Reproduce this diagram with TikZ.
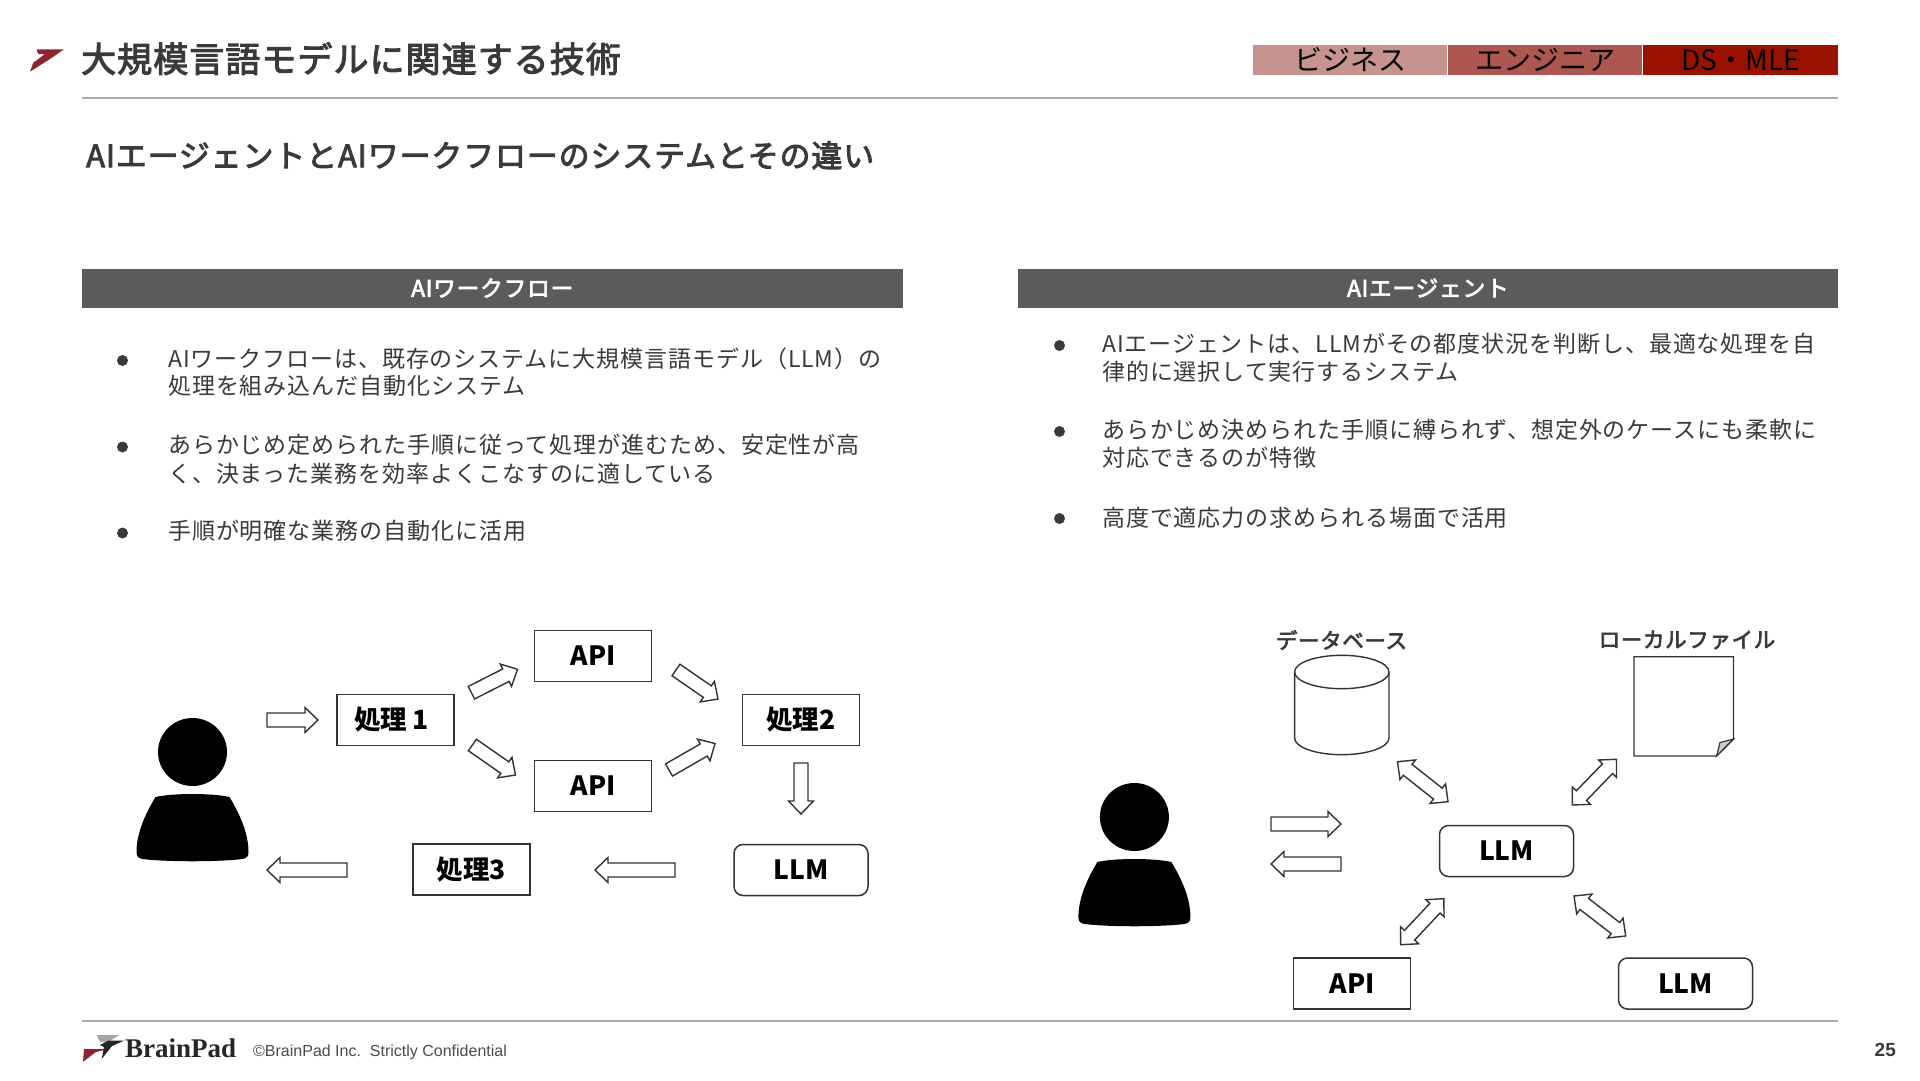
\documentclass[tikz,border=0pt]{standalone}
\usepackage{fontspec}
\usetikzlibrary{calc}
\newfontfamily\jpt[LetterSpace=4]{Noto Sans CJK JP}
\newfontfamily\jpm[LetterSpace=3,FakeBold=3]{Noto Sans CJK JP}
\newfontfamily\jpn{Noto Sans CJK JP}
\newfontfamily\arl{Liberation Sans}
\newfontfamily\lsr{Liberation Serif}
\definecolor{ink}{HTML}{3A3A3A}
\definecolor{rulegray}{HTML}{ABABAB}
\definecolor{barGray}{HTML}{5B5B5B}
\definecolor{tagA}{HTML}{C7938F}
\definecolor{tagB}{HTML}{AE5650}
\definecolor{tagC}{HTML}{9A1100}
\definecolor{logoRed}{HTML}{8E2430}
\tikzset{
  boxsq/.style={draw=black!80,line width=1.5pt,fill=white,rectangle,minimum width=117pt,minimum height=51pt,inner sep=0pt,font=\jpn\bfseries\fontsize{26.5}{30}\selectfont},
  boxrd/.style={boxsq,rounded corners=9pt,minimum width=134pt},
  blk/.style={draw=black!80,line width=1.4pt,fill=white,line join=miter},
  para/.style={anchor=mid west,inner sep=0pt,text=ink,font=\jpt\fontsize{23}{26}\selectfont},
  bar/.style={fill=barGray,rectangle,inner sep=0pt,minimum width=820.6pt,minimum height=39pt,text=white,font=\jpm\fontsize{22.8}{26}\selectfont},
  tag/.style={rectangle,inner sep=0pt,minimum width=194pt,minimum height=30pt,text=black,font=\jpn\fontsize{28}{30}\selectfont},
  captext/.style={inner sep=0pt,text=ink,font=\jpm\fontsize{21.5}{24}\selectfont},
}
\newcommand\barrow[2]{%
  \coordinate (nk) at ($(#2)!13pt!(#1)$);
  \draw[blk] ($(#1)!7pt!90:(#2)$) -- ($(nk)!7pt!90:(#2)$) -- ($(nk)!12.5pt!90:(#2)$) -- (#2)
    -- ($(nk)!12.5pt!-90:(#2)$) -- ($(nk)!7pt!-90:(#2)$) -- ($(#1)!7pt!-90:(#2)$) -- cycle;}
\newcommand\dbarrow[2]{%
  \coordinate (nk) at ($(#2)!13pt!(#1)$);
  \coordinate (nj) at ($(#1)!13pt!(#2)$);
  \draw[blk] (#1) -- ($(nj)!12.5pt!-90:(#2)$) -- ($(nj)!7pt!-90:(#2)$) -- ($(nk)!7pt!90:(#1)$) -- ($(nk)!12.5pt!90:(#1)$) -- (#2)
    -- ($(nk)!12.5pt!-90:(#1)$) -- ($(nk)!7pt!-90:(#1)$) -- ($(nj)!7pt!90:(#2)$) -- ($(nj)!12.5pt!90:(#2)$) -- cycle;}
\newcommand\personfig[2]{%
  \begin{scope}[shift={(#1,#2)}]
    \fill[black] (0,0) ellipse [x radius=34.5,y radius=34];
    \fill[black] (-37,45) .. controls (-20,41) and (20,41) .. (37,45)
      .. controls (46,60) and (56,80) .. (56,100)
      .. controls (56,105) and (54,106) .. (50,107)
      .. controls (25,110) and (-25,110) .. (-50,107)
      .. controls (-54,106) and (-56,105) .. (-56,100)
      .. controls (-56,80) and (-46,60) .. (-37,45) -- cycle;
  \end{scope}}
\begin{document}
\begin{tikzpicture}[x=1pt,y=-1pt]
\useasboundingbox[fill=white] (0,0) rectangle (1920,1080);
% header
\fill[logoRed] (36.7,49.3) -- (64,49.3) -- (50,59) -- (30,71.7) -- (33.3,62.7) -- (45,54) -- (38,54) -- cycle;
\node[anchor=mid west,inner sep=0pt,text=ink] (title) at (81,70) {\jpm\fontsize{35}{40}\selectfont 大規模言語モデルに関連する技術};
\draw[rulegray,line width=1.6pt] (82,98) -- (1838,98);
\node[tag,fill=tagA] (t1) at (1350,60) {ビジネス};
\node[tag,fill=tagB,minimum width=194pt] (t2) at (1545,60) {エンジニア};
\node[tag,fill=tagC,minimum width=195pt] (t3) at (1740.5,60) {DS・MLE};
\node[anchor=mid west,inner sep=0pt,text=ink] (sub) at (86,165) {\jpm\fontsize{30.9}{36}\selectfont AIエージェントとAIワークフローのシステムとその違い};
% section bars
\node[bar] (b1) at (492.3,288) {AIワークフロー};
\node[bar] (b2) at (1427.9,288) {AIエージェント};
% left bullets
\fill[ink] (122.5,360.5) circle (5.5);
\fill[ink] (122.5,447) circle (5.5);
\fill[ink] (122.5,533) circle (5.5);
\node[para] (l1) at (168,365) {AIワークフローは、既存のシステムに大規模言語モデル（LLM）の};
\node[para] (l2) at (168,392.5) {処理を組み込んだ自動化システム};
\node[para] (l3) at (168,451) {あらかじめ定められた手順に従って処理が進むため、安定性が高};
\node[para] (l4) at (168,480) {く、決まった業務を効率よくこなすのに適している};
\node[para] (l5) at (168,537) {手順が明確な業務の自動化に活用};
% right bullets
\fill[ink] (1059.5,345.5) circle (5.5);
\fill[ink] (1059.5,431.5) circle (5.5);
\fill[ink] (1059.5,518.5) circle (5.5);
\node[para] (r1) at (1102,350) {AIエージェントは、LLMがその都度状況を判断し、最適な処理を自};
\node[para] (r2) at (1102,378) {律的に選択して実行するシステム};
\node[para] (r3) at (1102,436) {あらかじめ決められた手順に縛られず、想定外のケースにも柔軟に};
\node[para] (r4) at (1102,464) {対応できるのが特徴};
\node[para] (r5) at (1102,524) {高度で適応力の求められる場面で活用};
% left diagram
\personfig{192.5}{752}
\node[boxsq] (p1) at (395.5,720) {処理\kern5pt 1\kern8pt\relax};
\node[boxsq] (api1) at (593,656) {API};
\node[boxsq] (api2) at (593,786) {API};
\node[boxsq] (p2) at (801,720) {処理2};
\node[boxsq] (p3) at (471.5,869.5) {処理3};
\node[boxrd] (llm1) at (801,870) {LLM};
\coordinate (a1s) at (267,720); \coordinate (a1e) at (318,720);
\coordinate (a2s) at (471.4,692.7); \coordinate (a2e) at (517.5,669.3);
\coordinate (a3s) at (472.4,745); \coordinate (a3e) at (515.5,775);
\coordinate (a4s) at (676,670); \coordinate (a4e) at (718,699);
\coordinate (a5s) at (669,770); \coordinate (a5e) at (715,743.5);
\coordinate (a6s) at (801,763); \coordinate (a6e) at (801,814);
\coordinate (a7s) at (675,870); \coordinate (a7e) at (595,870);
\coordinate (a8s) at (347,870); \coordinate (a8e) at (267,870);
\barrow{a1s}{a1e}\barrow{a2s}{a2e}\barrow{a3s}{a3e}\barrow{a4s}{a4e}
\barrow{a5s}{a5e}\barrow{a6s}{a6e}\barrow{a7s}{a7e}\barrow{a8s}{a8e}
% right diagram
\personfig{1134.4}{817}
\node[boxrd] (llm2) at (1506.5,851) {LLM};
\node[boxsq] (api3) at (1352,983.5) {API};
\node[boxrd] (llm3) at (1685.5,983.5) {LLM};
\node[captext] (dbl) at (1341.5,640) {データベース};
\node[captext] (fil) at (1687,640) {ローカルファイル};
\draw[black!80,line width=1.4pt,fill=white] (1294.6,672) -- (1294.6,738)
  .. controls (1294.6,747.2) and (1315.8,754.7) .. (1341.8,754.7)
  .. controls (1367.8,754.7) and (1389,747.2) .. (1389,738) -- (1389,672);
\draw[black!80,line width=1.4pt] (1341.8,672) ellipse [x radius=47.2,y radius=16.7];
\draw[black!80,line width=1.4pt,fill=white] (1634,656.7) -- (1733.5,656.7) -- (1733.5,739) -- (1716.6,756) -- (1634,756) -- cycle;
\draw[black!80,line width=1.2pt,fill=black!20] (1733.5,739) -- (1720,742.5) -- (1716.6,756) -- cycle;
\coordinate (d1a) at (1397.5,761.7); \coordinate (d1b) at (1448,801.7);
\coordinate (d2a) at (1616.5,759.3); \coordinate (d2b) at (1572.4,805);
\coordinate (d3a) at (1443.8,898.7); \coordinate (d3b) at (1400.7,944.7);
\coordinate (d4a) at (1574,896); \coordinate (d4b) at (1625.7,936);
\dbarrow{d1a}{d1b}\dbarrow{d2a}{d2b}\dbarrow{d3a}{d3b}\dbarrow{d4a}{d4b}
\coordinate (r1s) at (1271,824); \coordinate (r1e) at (1341,824);
\coordinate (r2s) at (1341,864); \coordinate (r2e) at (1271,864);
\barrow{r1s}{r1e}\barrow{r2s}{r2e}
% footer
\draw[rulegray,line width=1.6pt] (82,1021) -- (1838,1021);
\fill[black!35] (96.7,1035) -- (119.3,1035) -- (108,1042) -- (100,1042) -- cycle;
\fill[logoRed] (84,1049) -- (108,1049) -- (96,1052) -- (83,1061.7) -- cycle;
\fill[black!85] (108,1040.7) -- (124,1040.7) -- (112,1046) -- (101.7,1059) -- (104,1047) -- (100,1045) -- cycle;
\node[anchor=mid west,inner sep=0pt,text=black!85] (brand) at (125,1055) {\lsr\bfseries\fontsize{27}{30}\selectfont BrainPad};
\node[anchor=mid west,inner sep=0pt,text=black!70] (copy) at (253,1054) {\arl\fontsize{16}{20}\selectfont ©BrainPad Inc.\ \ Strictly Confidential};
\node[anchor=mid east,inner sep=0pt,text=ink] (pg) at (1896,1054) {\arl\bfseries\fontsize{19}{22}\selectfont 25};
\end{tikzpicture}
\end{document}
